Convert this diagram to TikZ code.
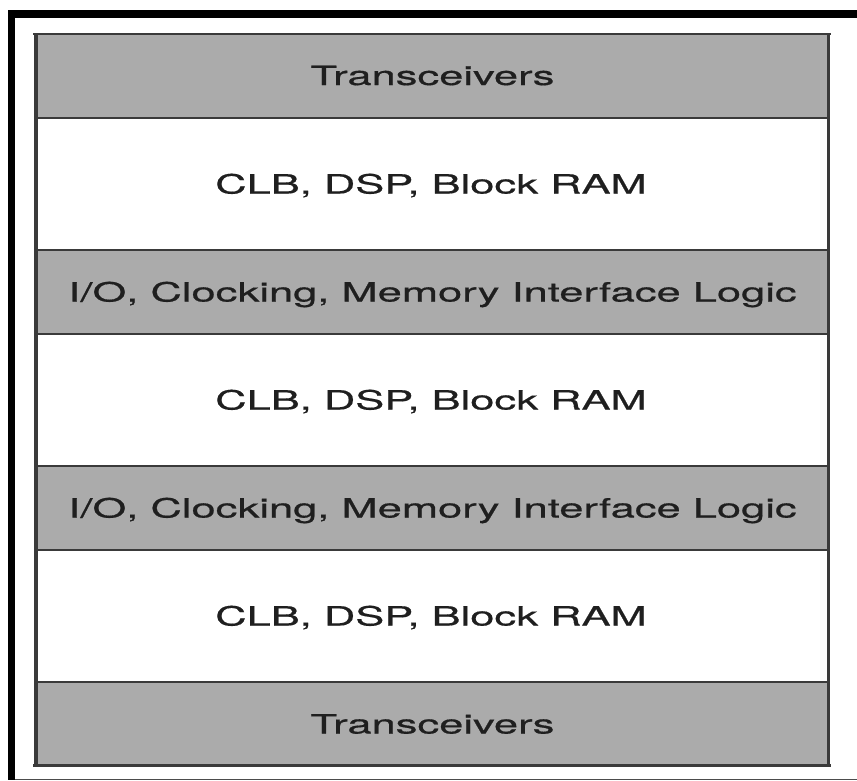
\documentclass[tikz,border=0pt]{standalone}
\usepackage{fontspec}
\setmainfont{TeX Gyre Heros}
\newfontfamily\lblfont{TeX Gyre Heros}[FakeBold=0.5]
\usepackage{graphicx}
\definecolor{bandgray}{HTML}{ABABAB}
\definecolor{rulecol}{HTML}{3A3A3A}
\begin{document}
\begin{tikzpicture}[x=1pt,y=-1pt,
  lbl/.style={anchor=base, inner sep=0pt, text=black!88,
    font=\lblfont\fontsize{26.5}{30}\selectfont},
  sepline/.style={draw=rulecol, line width=2pt},
  grayband/.style={fill=bandgray},
]
\useasboundingbox (0,0) rectangle (857,780);
\fill[white] (0,0) rectangle (857,780);

% outer frame
\draw[line width=8pt] (8,14) -- (857,14);
\draw[line width=7pt] (11.5,10) -- (11.5,780);
\draw[black!70, line width=1pt] (15,779) -- (857,779);

% gray bands
\fill[grayband] (35,34) rectangle (829,118);
\fill[grayband] (35,250) rectangle (829,334);
\fill[grayband] (35,466) rectangle (829,550);
\fill[grayband] (35,682) rectangle (829,766);

% separators between bands
\foreach \yy in {118,250,334,466,550,682}
  \draw[sepline] (35,\yy) -- (829,\yy);

% box border
\draw[draw=rulecol, line width=2.5pt] (33,34) -- (831,34);
\draw[draw=rulecol, line width=2.5pt] (33,765.5) -- (831,765.5);
\draw[draw=rulecol, line width=4pt] (36,33) -- (36,767);
\draw[draw=rulecol, line width=3.5pt] (828.5,33) -- (828.5,767);

% labels
\node[lbl] (t1) at (432.5,85)  {\scalebox{1.64}[1]{Transceivers}};
\node[lbl] (c1) at (431,193.5) {\scalebox{1.64}[1]{CLB, DSP, Block RAM}};
\node[lbl] (i1) at (432.5,301.5) {\scalebox{1.64}[1]{I/O, Clocking, Memory Interface Logic}};
\node[lbl] (c2) at (431,409.5) {\scalebox{1.64}[1]{CLB, DSP, Block RAM}};
\node[lbl] (i2) at (432.5,517.5) {\scalebox{1.64}[1]{I/O, Clocking, Memory Interface Logic}};
\node[lbl] (c3) at (431,625.5) {\scalebox{1.64}[1]{CLB, DSP, Block RAM}};
\node[lbl] (t2) at (432.5,733.5) {\scalebox{1.64}[1]{Transceivers}};
\end{tikzpicture}
\end{document}
